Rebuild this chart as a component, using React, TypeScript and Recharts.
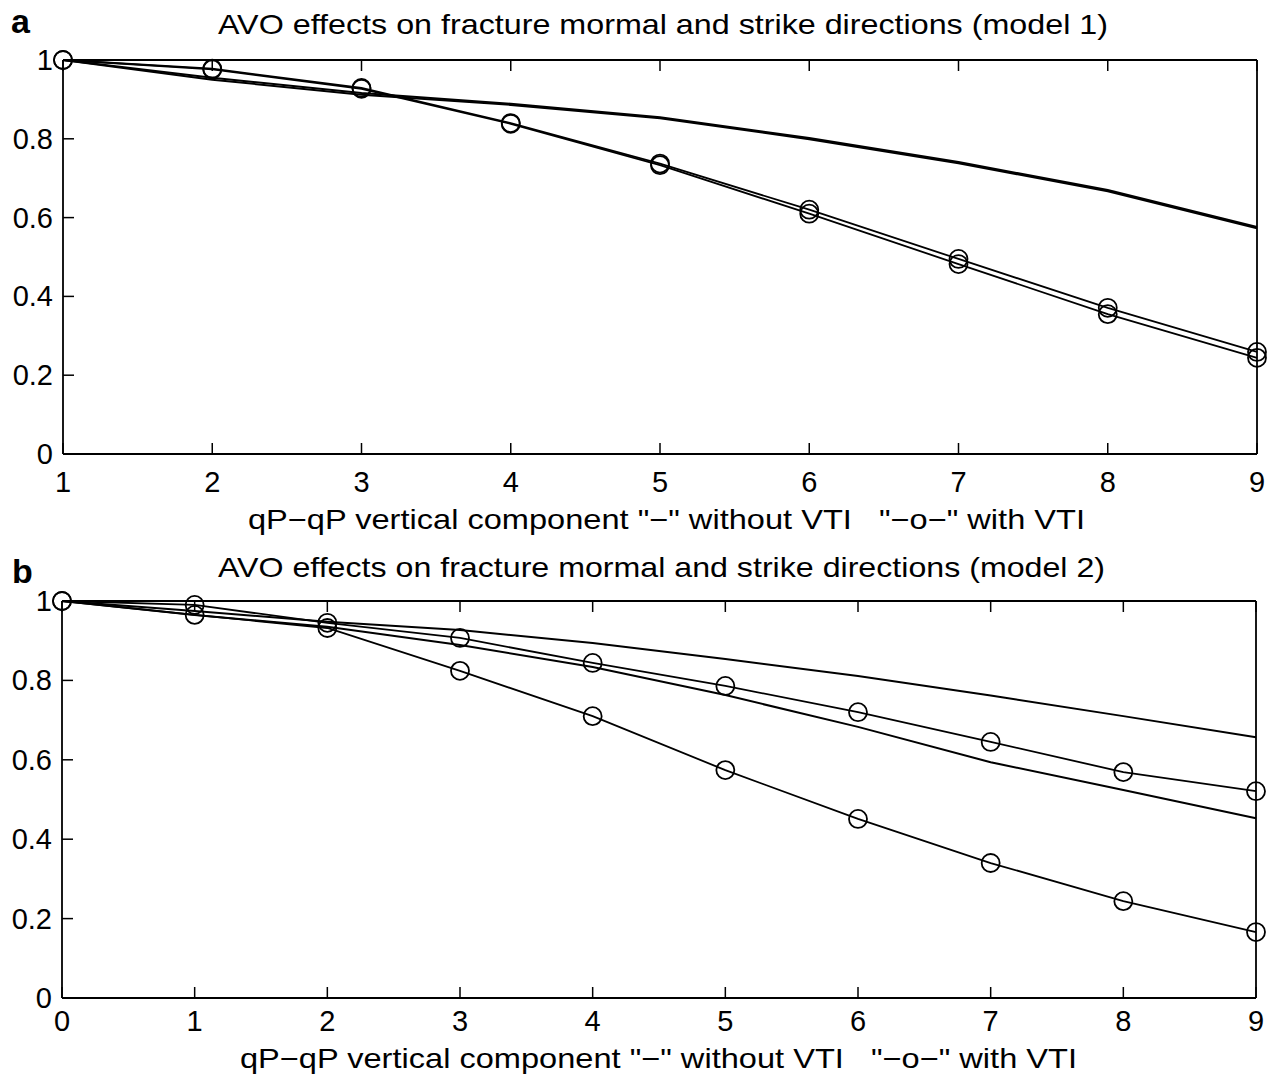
import React from 'react';
import { LineChart, Line, XAxis, YAxis } from 'recharts';

const FONT = '"Liberation Sans", Arial, Helvetica, sans-serif';

// ---- model 1 (panel a) ----
const aOffsets = [1, 2, 3, 4, 5, 6, 7, 8, 9];
const aNormalNoVti = [1.0, 0.955, 0.916, 0.889, 0.855, 0.802, 0.741, 0.67, 0.576];
const aStrikeNoVti = [1.0, 0.95, 0.912, 0.886, 0.852, 0.799, 0.738, 0.667, 0.573];
const aNormalVti = [1.0, 0.978, 0.929, 0.84, 0.737, 0.62, 0.495, 0.371, 0.259];
const aStrikeVti = [1.0, 0.976, 0.927, 0.838, 0.733, 0.61, 0.482, 0.355, 0.244];

// ---- model 2 (panel b) ----
const bOffsets = [0, 1, 2, 3, 4, 5, 6, 7, 8, 9];
const bNormalNoVti = [1.0, 0.975, 0.948, 0.927, 0.894, 0.854, 0.811, 0.762, 0.71, 0.657];
const bStrikeNoVti = [1.0, 0.965, 0.935, 0.889, 0.834, 0.763, 0.683, 0.594, 0.524, 0.453];
const bNormalVti = [1.0, 0.99, 0.945, 0.907, 0.844, 0.786, 0.72, 0.645, 0.569, 0.521];
const bStrikeVti = [1.0, 0.965, 0.932, 0.824, 0.71, 0.574, 0.451, 0.34, 0.244, 0.166];

const yTicks = [0, 0.2, 0.4, 0.6, 0.8, 1];
const yTickLabels = ['0', '0.2', '0.4', '0.6', '0.8', '1'];

const titleA = 'AVO effects on fracture mormal and strike directions (model 1)';
const titleB = 'AVO effects on fracture mormal and strike directions (model 2)';
const xLabel = 'qP\u2212qP vertical component "\u2212" without VTI   "\u2212o\u2212" with VTI';

const rowsA = aOffsets.map((x, i) => ({
  x,
  n: aNormalNoVti[i],
  s: aStrikeNoVti[i],
  nv: aNormalVti[i],
  sv: aStrikeVti[i],
}));

const rowsB = bOffsets.map((x, i) => ({
  x,
  n: bNormalNoVti[i],
  s: bStrikeNoVti[i],
  nv: bNormalVti[i],
  sv: bStrikeVti[i],
}));

const TICK_LEN = 11;
const TICK_W = 1.5;
const LABEL_SIZE = 29;

const makeBottomTick = (labelDy: number) => (props: any) => {
  const { x, y, payload } = props;
  return (
    <g>
      <line x1={x} y1={y} x2={x} y2={y - TICK_LEN} stroke="#000" strokeWidth={TICK_W} />
      <text x={x} y={y + labelDy} textAnchor="middle" fontSize={LABEL_SIZE} fontFamily={FONT} fill="#000">
        {payload.value}
      </text>
    </g>
  );
};

const TopTick = (props: any) => {
  const { x, y } = props;
  return <line x1={x} y1={y} x2={x} y2={y + TICK_LEN} stroke="#000" strokeWidth={TICK_W} />;
};

const LeftTick = (props: any) => {
  const { x, y, payload } = props;
  const idx = yTicks.indexOf(payload.value);
  const label = idx >= 0 ? yTickLabels[idx] : String(payload.value);
  return (
    <g>
      <line x1={x} y1={y} x2={x + TICK_LEN} y2={y} stroke="#000" strokeWidth={TICK_W} />
      <text x={x - 10} y={y + 10} textAnchor="end" fontSize={LABEL_SIZE} fontFamily={FONT} fill="#000">
        {label}
      </text>
    </g>
  );
};

const RightTick = (props: any) => {
  const { x, y } = props;
  return <line x1={x} y1={y} x2={x - TICK_LEN} y2={y} stroke="#000" strokeWidth={TICK_W} />;
};

const axisLine = { stroke: '#000', strokeWidth: 1.8 };
const circle = { r: 9, stroke: '#000', strokeWidth: 1.8, fill: 'none' };

function Panel({
  rows,
  xs,
  domain,
  top,
  height,
  margin,
  labelDy,
}: {
  rows: any[];
  xs: number[];
  domain: [number, number];
  top: number;
  height: number;
  margin: { top: number; right: number; bottom: number; left: number };
  labelDy: number;
}) {
  const BottomTick = makeBottomTick(labelDy);
  return (
    <div style={{ position: 'absolute', left: 0, top, width: 1269, height }}>
      <LineChart width={1269} height={height} data={rows} margin={margin}>
        <XAxis
          xAxisId="bottom"
          dataKey="x"
          type="number"
          domain={domain}
          ticks={xs}
          interval={0}
          height={1}
          tickSize={0}
          tickMargin={0}
          tickLine={false}
          axisLine={axisLine}
          tick={<BottomTick />}
        />
        <XAxis
          xAxisId="top"
          orientation="top"
          dataKey="x"
          type="number"
          domain={domain}
          ticks={xs}
          interval={0}
          height={1}
          tickSize={0}
          tickMargin={0}
          tickLine={false}
          axisLine={axisLine}
          tick={<TopTick />}
        />
        <YAxis
          yAxisId="left"
          type="number"
          domain={[0, 1]}
          ticks={yTicks}
          interval={0}
          width={1}
          tickSize={0}
          tickMargin={0}
          tickLine={false}
          axisLine={axisLine}
          tick={<LeftTick />}
        />
        <YAxis
          yAxisId="right"
          orientation="right"
          type="number"
          domain={[0, 1]}
          ticks={yTicks}
          interval={0}
          width={1}
          tickSize={0}
          tickMargin={0}
          tickLine={false}
          axisLine={axisLine}
          tick={<RightTick />}
        />
        <Line xAxisId="bottom" yAxisId="left" type="linear" dataKey="n" stroke="#000" strokeWidth={2} dot={false} isAnimationActive={false} />
        <Line xAxisId="bottom" yAxisId="left" type="linear" dataKey="s" stroke="#000" strokeWidth={2} dot={false} isAnimationActive={false} />
        <Line xAxisId="bottom" yAxisId="left" type="linear" dataKey="nv" stroke="#000" strokeWidth={1.8} dot={circle} isAnimationActive={false} />
        <Line xAxisId="bottom" yAxisId="left" type="linear" dataKey="sv" stroke="#000" strokeWidth={1.8} dot={circle} isAnimationActive={false} />
      </LineChart>
    </div>
  );
}

export default function App() {
  return (
    <div style={{ position: 'absolute', left: 0, top: 0, width: 1269, height: 1077, background: '#fff', overflow: 'hidden' }}>
      <Panel
        rows={rowsA}
        xs={aOffsets}
        domain={[1, 9]}
        top={0}
        height={540}
        margin={{ top: 59, right: 11, bottom: 85, left: 62 }}
        labelDy={38}
      />
      <Panel
        rows={rowsB}
        xs={bOffsets}
        domain={[0, 9]}
        top={545}
        height={532}
        margin={{ top: 55, right: 12, bottom: 78, left: 61 }}
        labelDy={33}
      />
      <svg width={1269} height={1077} style={{ position: 'absolute', left: 0, top: 0, pointerEvents: 'none' }}>
        <text x={11} y={33} fontSize={34} fontWeight="bold" fontFamily={FONT} fill="#000">a</text>
        <text x={12} y={583} fontSize={34} fontWeight="bold" fontFamily={FONT} fill="#000">b</text>
        <text x={218} y={34} fontSize={28} fontFamily={FONT} fill="#000" textLength={890} lengthAdjust="spacingAndGlyphs">
          {titleA}
        </text>
        <text x={248} y={529} fontSize={28} fontFamily={FONT} fill="#000" textLength={837} lengthAdjust="spacingAndGlyphs" xmlSpace="preserve" style={{ whiteSpace: 'pre' }}>
          {xLabel}
        </text>
        <text x={218} y={577} fontSize={28} fontFamily={FONT} fill="#000" textLength={887} lengthAdjust="spacingAndGlyphs">
          {titleB}
        </text>
        <text x={240} y={1068} fontSize={28} fontFamily={FONT} fill="#000" textLength={837} lengthAdjust="spacingAndGlyphs" xmlSpace="preserve" style={{ whiteSpace: 'pre' }}>
          {xLabel}
        </text>
      </svg>
    </div>
  );
}
